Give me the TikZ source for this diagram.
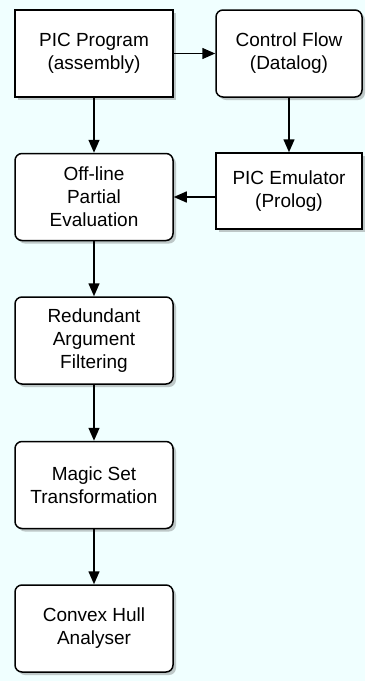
\documentclass[tikz,border=0pt]{standalone}
\usepackage{fontspec}
\setmainfont{Liberation Sans}
\usetikzlibrary{arrows.meta,shadows}
\definecolor{bgcol}{RGB}{240,255,255}
\tikzset{
	stage/.style={draw, line width=1.5pt, fill=white, align=center, font=\fontsize{19}{23}\selectfont,
		minimum width=158pt, minimum height=87pt, inner sep=0pt,
		drop shadow={shadow xshift=3pt, shadow yshift=-3pt, opacity=0.3, fill=black!70}},
	roundstage/.style={stage, rounded corners=7pt},
	flowarrow/.style={line width=1.5pt, -{Triangle[length=13pt,width=11pt]}}
}
\begin{document}
\begin{tikzpicture}[x=1pt, y=-1pt]
		%%%%% START %%%%%
		
		\fill[bgcol] (0, 0) rectangle (365, 681);
		\useasboundingbox (0, 0) rectangle (365, 681);
		
		\node[stage] (prog) at (94, 53.5) {PIC Program\\(assembly)};
		\node[roundstage, minimum width=146pt] (flow) at (289, 53.5) {Control Flow\\(Datalog)};
		\node[stage, minimum width=146pt, minimum height=76pt] (emul) at (289, 191) {PIC Emulator\\(Prolog)};
		
		\node[roundstage] (peval) at (94, 197) {Off-line\\Partial\\Evaluation};
		\node[roundstage] (raf) at (94, 340.5) {Redundant\\Argument\\Filtering};
		\node[roundstage] (magic) at (94, 485) {Magic Set\\Transformation};
		\node[roundstage] (hull) at (94, 628.5) {Convex Hull\\Analyser};
		
		\draw[flowarrow] (prog) -- (flow);
		\draw[flowarrow] (flow) -- (emul);
		\draw[flowarrow] (emul.west |- peval.east) -- (peval.east);
		\draw[flowarrow] (prog) -- (peval);
		\draw[flowarrow] (peval) -- (raf);
		\draw[flowarrow] (raf) -- (magic);
		\draw[flowarrow] (magic) -- (hull);
		
		%%%%% END %%%%%
	\end{tikzpicture}
\end{document}
